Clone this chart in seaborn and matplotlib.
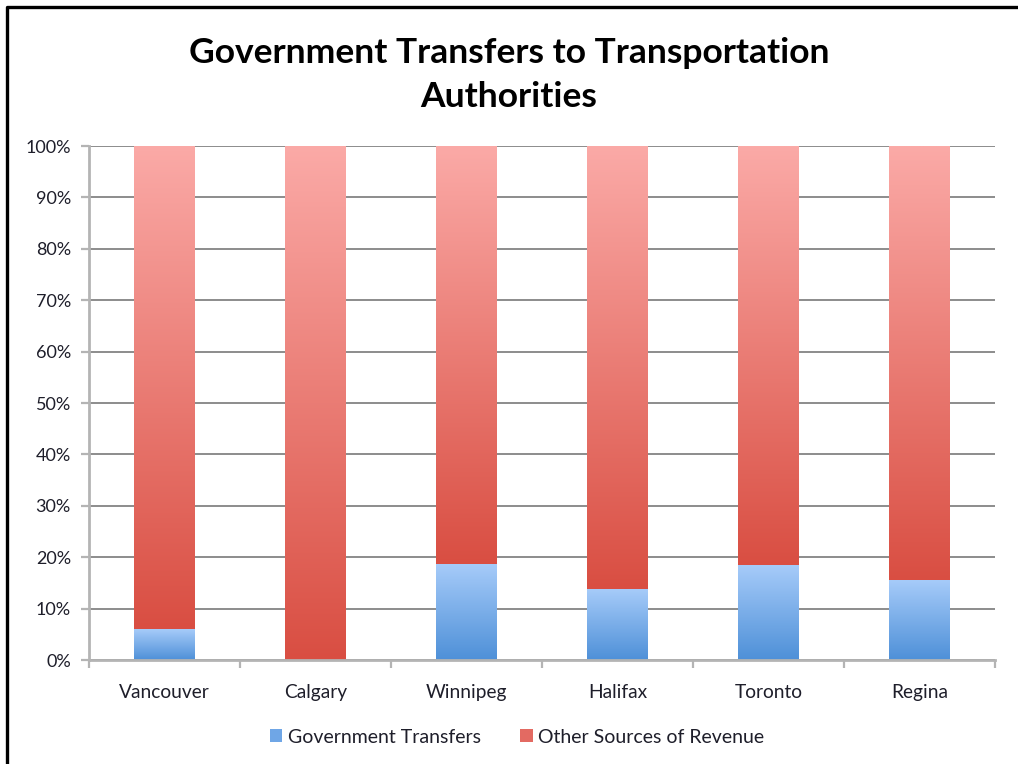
import numpy as np
import pandas as pd
import matplotlib
matplotlib.use("Agg")
import matplotlib.pyplot as plt
import seaborn as sns
from matplotlib.colors import LinearSegmentedColormap
from matplotlib.patches import Patch
from matplotlib.lines import Line2D
from matplotlib.ticker import PercentFormatter, FixedLocator

# Share of revenue by source (%)
cities = ["Vancouver", "Calgary", "Winnipeg", "Halifax", "Toronto", "Regina"]
gov_transfers = [6.0, 0.0, 18.6, 13.8, 18.3, 15.4]
other_revenue = [94.0, 100.0, 81.4, 86.2, 81.7, 84.6]
series_names = ["Government Transfers", "Other Sources of Revenue"]
title_text = "Government Transfers to Transportation\nAuthorities"

# gradient end colours (top, bottom) for each series
blue_top, blue_bottom = "#A6CBF9", "#4E90D8"
red_top, red_bottom = "#FBAAA7", "#D94E42"

sns.set_theme(style="white")
plt.rcParams["font.family"] = ["Lato", "DejaVu Sans"]
text_color = "#1e1e2a"

fig = plt.figure(figsize=(10.18, 7.64), dpi=100)
ax = fig.add_axes([0.0874, 0.1361, 0.8900, 0.6728])

df = pd.DataFrame({"city": cities, "gov": gov_transfers, "other": other_revenue})
df["total"] = df["gov"] + df["other"]

sns.barplot(data=df, x="city", y="total", color=red_bottom, width=0.4,
            saturation=1, ax=ax, zorder=2)
n = len(cities)
sns.barplot(data=df, x="city", y="gov", color=blue_bottom, width=0.4,
            saturation=1, ax=ax, zorder=2)

total_bars = ax.patches[:n]
gov_bars = ax.patches[n:2 * n]


def gradient_fill(x0, x1, y0, y1, top, bottom):
    if y1 - y0 <= 0:
        return
    cmap = LinearSegmentedColormap.from_list("seg", [bottom, top])
    grad = np.linspace(0, 1, 256).reshape(-1, 1)
    ax.imshow(grad, cmap=cmap, extent=(x0, x1, y0, y1), origin="lower",
              aspect="auto", interpolation="bilinear", zorder=3)


for tb, gb, g, o in zip(total_bars, gov_bars, gov_transfers, other_revenue):
    x0, w = tb.get_x(), tb.get_width()
    gradient_fill(x0, x0 + w, g, g + o, red_top, red_bottom)
    gradient_fill(x0, x0 + w, 0, g, blue_top, blue_bottom)
    tb.set_visible(False)
    gb.set_visible(False)

ax.set_xlim(-0.5, n - 0.5)
ax.set_ylim(0, 100)
ax.set_xlabel("")
ax.set_ylabel("")

ax.yaxis.set_major_locator(FixedLocator(np.arange(0, 101, 10)))
ax.yaxis.set_major_formatter(PercentFormatter(decimals=0))
ax.yaxis.grid(True, color="#8c8c8c", linewidth=1.4, zorder=1)
ax.set_axisbelow(True)

for side in ["top", "right"]:
    ax.spines[side].set_visible(False)
for side in ["left", "bottom"]:
    ax.spines[side].set_color("#b4b4b4")
    ax.spines[side].set_linewidth(2.0)
    ax.spines[side].set_zorder(4)

ax.tick_params(axis="y", which="major", left=True, length=6, width=1.6,
               color="#b4b4b4", pad=7, labelsize=13, labelcolor=text_color)
ax.set_xticks(range(n))
ax.set_xticklabels(cities)
ax.set_xticks(np.arange(-0.5, n, 1.0), minor=True)
ax.tick_params(axis="x", which="major", bottom=False, length=0, pad=17,
               labelsize=13.8, labelcolor=text_color)
ax.tick_params(axis="x", which="minor", bottom=True, length=6, width=1.6,
               color="#b4b4b4")

fig.text(0.5, 0.902, title_text, ha="center", va="center", fontsize=25.5,
         fontweight="bold", color="#000000", linespacing=1.48)

handles = [Patch(facecolor="#6FA6E6", edgecolor="none"),
           Patch(facecolor="#E36A62", edgecolor="none")]
fig.legend(handles, series_names, loc="center", bbox_to_anchor=(0.508, 0.035),
           ncol=2, frameon=False, fontsize=14, handlelength=0.65,
           handleheight=0.65, handletextpad=0.3, columnspacing=2.0,
           labelcolor=text_color)

# frame lines along the left and top edges
fig.add_artist(Line2D([0.0069, 0.0069, 1.0], [0.0, 0.9902, 0.9902],
                      transform=fig.transFigure, color="black", linewidth=2.4))

fig.savefig("out.png", dpi=100)
